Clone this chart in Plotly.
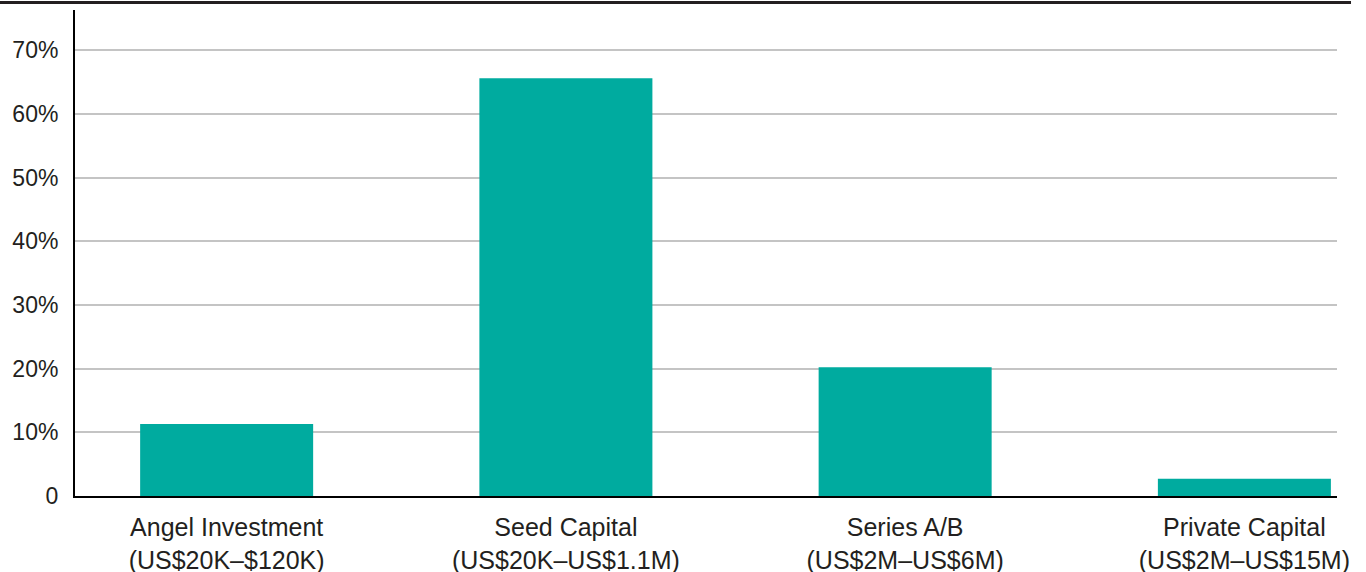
import plotly.graph_objects as go

categories = ["Angel Investment<br>(US$20K–$120K)",
              "Seed Capital<br>(US$20K–US$1.1M)",
              "Series A/B<br>(US$2M–US$6M)",
              "Private Capital<br>(US$2M–US$15M)"]
values = [11.3, 65.6, 20.2, 2.7]
y_tickvals = [0, 10, 20, 30, 40, 50, 60, 70]
y_ticktext = ["0", "10%", "20%", "30%", "40%", "50%", "60%", "70%"]

FONT = "Liberation Sans, Arial, Helvetica, sans-serif"
TXT = "#231f20"

fig = go.Figure()
fig.add_trace(go.Bar(x=categories, y=values, marker=dict(color="#00ab9f", line=dict(width=0)),
                     width=0.51, hoverinfo="skip"))

fig.update_layout(
    width=1366, height=572,
    margin=dict(l=75, r=29, t=10, b=76, pad=0),
    plot_bgcolor="white", paper_bgcolor="white",
    showlegend=False,
    font=dict(family=FONT, size=24, color=TXT),
    xaxis=dict(type="category", range=[-0.447, 3.273], showgrid=False,
               showline=True, linecolor="#000000", linewidth=2,
               ticks="", tickfont=dict(size=25, color=TXT), ticklabelstandoff=8,
               automargin=False, zeroline=False),
    yaxis=dict(range=[0, 76.3], tickvals=y_tickvals, ticktext=y_ticktext,
               showgrid=True, gridcolor="#c4c4c4", gridwidth=2,
               showline=True, linecolor="#000000", linewidth=2,
               ticks="", tickfont=dict(size=23, color=TXT), ticklabelstandoff=10,
               automargin=False, zeroline=False),
    shapes=[dict(type="line", xref="paper", yref="paper",
                 x0=-0.06, x1=1.0111, y0=1.0155, y1=1.0155,
                 line=dict(color="#231f20", width=3))],
)

fig.write_html("out.html", config={"displayModeBar": False},
               post_script="document.body.style.margin='0';document.body.style.padding='0';")
